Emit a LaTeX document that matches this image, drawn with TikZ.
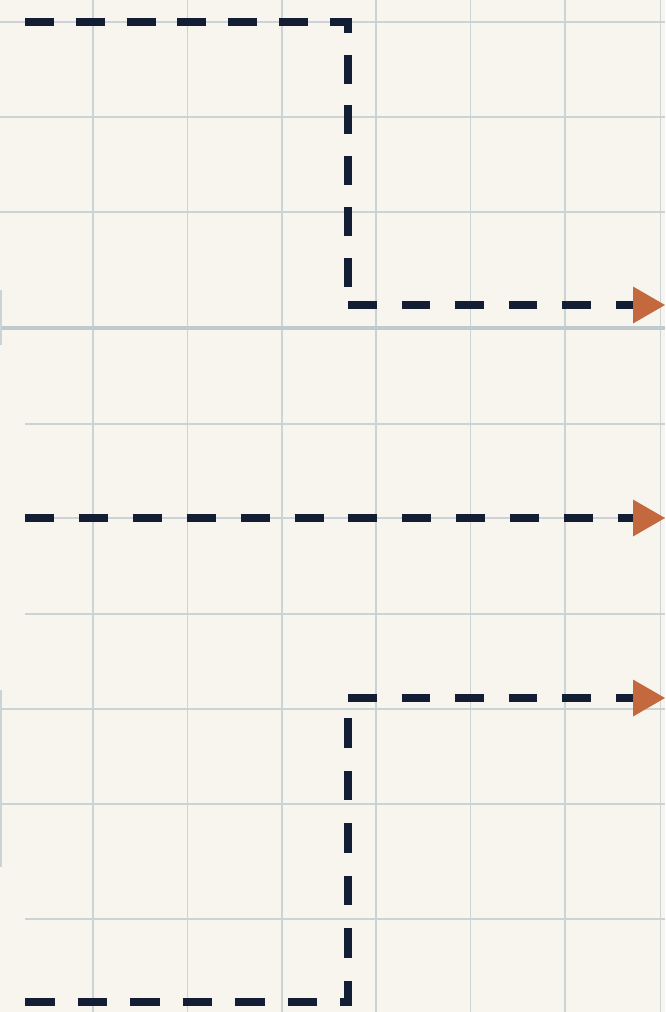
\documentclass[tikz,border=0pt]{standalone}
\usetikzlibrary{arrows.meta}
\definecolor{paper}{HTML}{F8F5EE}
\definecolor{gridc}{HTML}{CAD4D6}
\definecolor{gridd}{HTML}{BFCACD}
\definecolor{ink}{HTML}{131D33}
\definecolor{tipc}{HTML}{C4693D}
\tikzset{
  gridline/.style={draw=gridc, line width=1.8pt},
  gridbold/.style={draw=gridd, line width=3.2pt},
  flow/.style={draw=ink, line width=7.5pt, line cap=butt, line join=miter},
  tipped/.style={-{Triangle[length=32pt,width=37pt,line width=0pt,color=tipc]}}
}
\begin{document}
\begin{tikzpicture}[x=1pt,y=-1pt]
  \useasboundingbox (0,0) rectangle (665,1012);
  \fill[paper] (0,0) rectangle (665,1012);
  % grid
  \foreach \gx in {93,187.5,282,376,470.5,565,660.5}
    \draw[gridline] (\gx,0) -- (\gx,1012);
  \foreach \gy in {22,117,212,709,804}
    \draw[gridline] (0,\gy) -- (665,\gy);
  \foreach \gy in {424,518,614,919}
    \draw[gridline] (25,\gy) -- (665,\gy);
  \draw[gridbold] (0,328) -- (665,328);
  \draw[gridline] (1,290) -- (1,345);
  \draw[gridline] (1,690) -- (1,867);
  % flow paths
  \coordinate (a1) at (25,22);
  \coordinate (a2) at (348,22);
  \coordinate (a3) at (348,305);
  \coordinate (a4) at (665,305);
  \coordinate (b1) at (25,518);
  \coordinate (b2) at (665,518);
  \coordinate (c1) at (25,1002);
  \coordinate (c2) at (348,1002);
  \coordinate (c3) at (348,698);
  \coordinate (c4) at (665,698);
  \draw[flow, dash pattern=on 29pt off 21.8pt] (a1) -- (a2) -- (a3);
  \draw[flow, tipped, dash pattern=on 28.5pt off 25pt] (a3) -- (a4);
  \draw[flow, tipped, dash pattern=on 29pt off 24.9pt] (b1) -- (b2);
  \draw[flow, dash pattern=on 29.5pt off 23pt] (c1) -- (c2) -- (c3);
  \draw[flow, tipped, dash pattern=on 28.5pt off 25pt] (c3) -- (c4);
\end{tikzpicture}
\end{document}
